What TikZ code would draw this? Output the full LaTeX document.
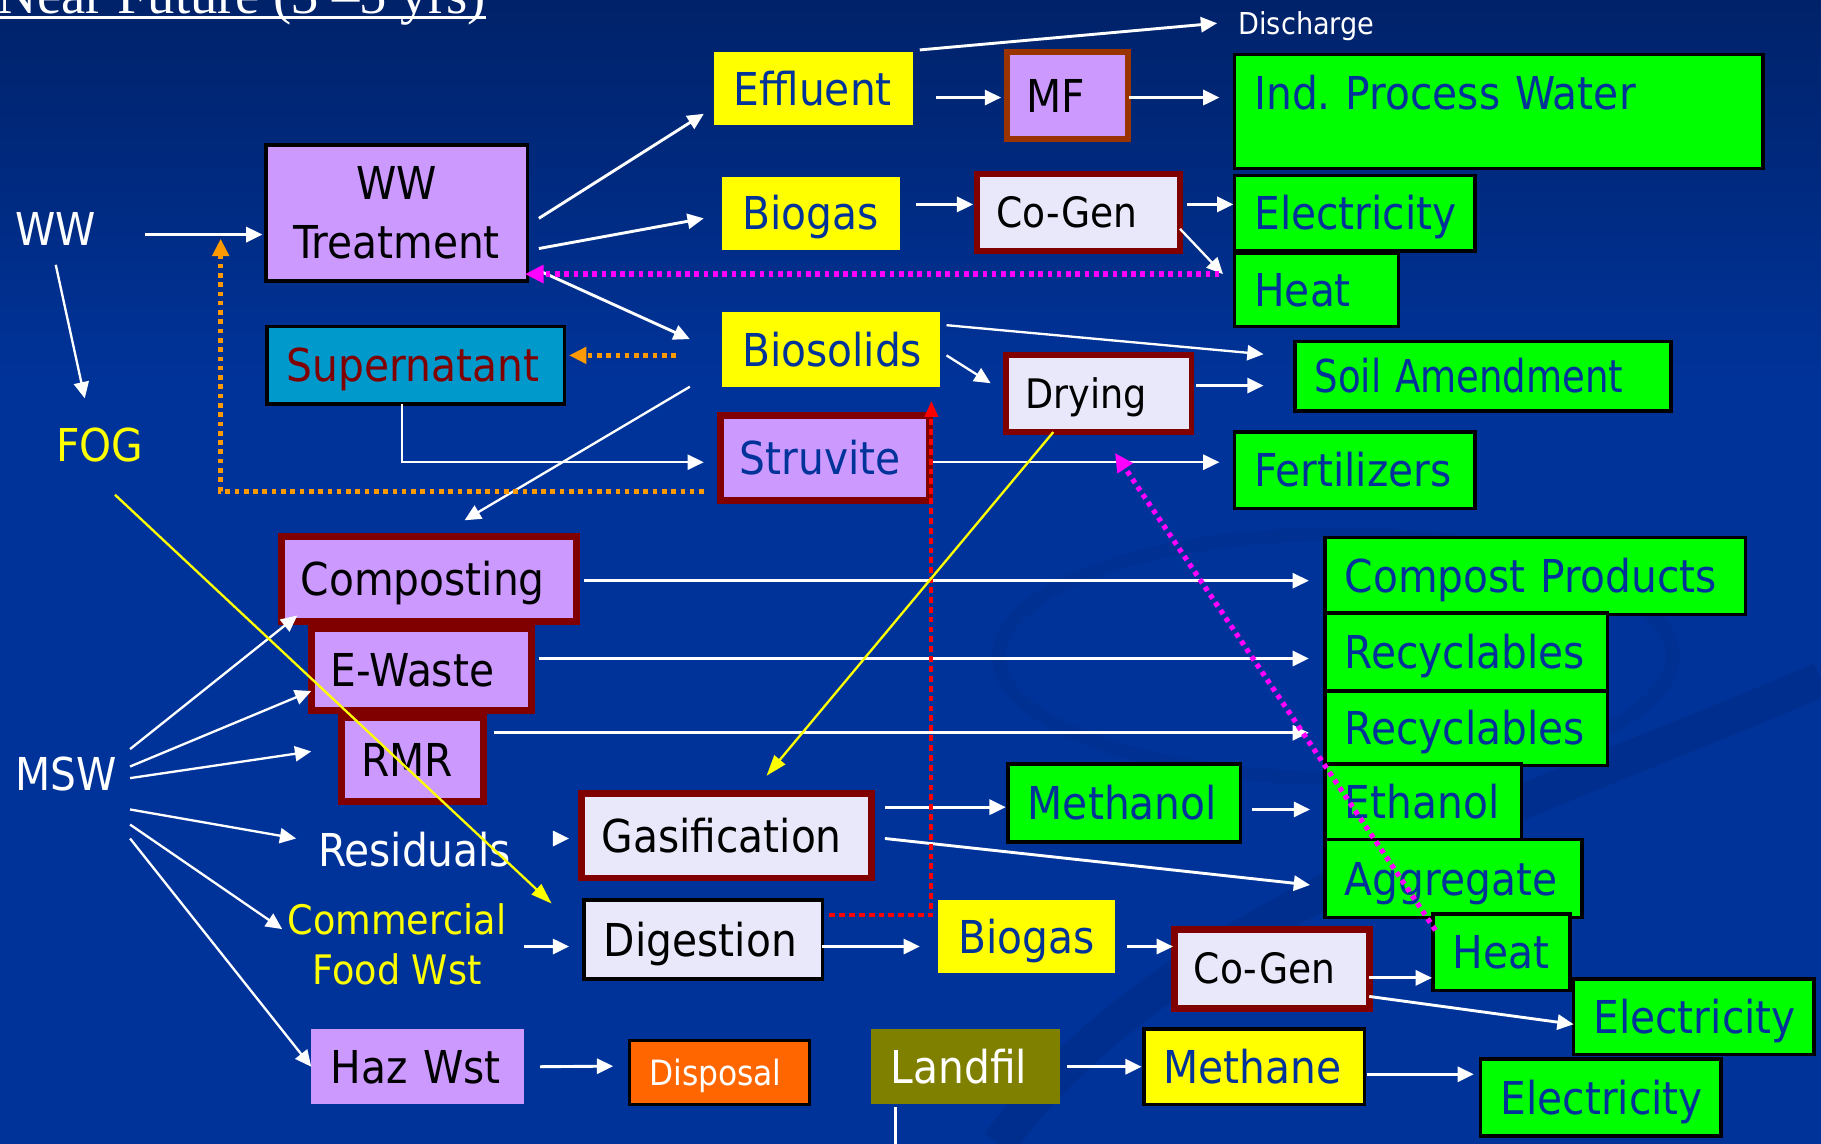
\documentclass[tikz,border=0pt]{standalone}
\usepackage{fontspec}
\setmainfont{DejaVu Sans Condensed}
\newfontfamily\titlefont{Liberation Serif}
\usetikzlibrary{arrows.meta}
\definecolor{bgblue}{RGB}{0,51,153}
\definecolor{bgtop}{RGB}{0,34,105}
\definecolor{swoosh}{RGB}{0,38,125}
\definecolor{lav}{RGB}{204,153,255}
\definecolor{lite}{RGB}{232,232,250}
\definecolor{maroonc}{RGB}{128,0,0}
\definecolor{brownb}{RGB}{153,51,0}
\definecolor{grn}{RGB}{0,255,0}
\definecolor{yel}{RGB}{255,255,0}
\definecolor{tealc}{RGB}{0,153,204}
\definecolor{orng}{RGB}{255,102,0}
\definecolor{olivec}{RGB}{128,128,0}
\definecolor{txtblue}{RGB}{0,51,153}
\definecolor{dotorange}{RGB}{255,153,0}
\definecolor{magc}{RGB}{255,0,255}
\definecolor{redc}{RGB}{255,0,0}
\newcommand\fbig{\fontsize{39}{48}\selectfont}
\newcommand\fww{\fontsize{39}{51}\selectfont}
\newcommand\fcogen{\fontsize{36}{44}\selectfont}
\newcommand\fdry{\fontsize{35}{42}\selectfont}
\newcommand\fdisp{\fontsize{30}{36}\selectfont}
\newcommand\fdisch{\fontsize{26}{30}\selectfont}
\newcommand\fcfw{\fontsize{35}{43}\selectfont}
\newcommand\ftitle{\titlefont\fontsize{47}{50}\selectfont}
\newcommand\bx[7]{%
  \pgfmathsetmacro\bxcx{(#3+#5)/2}%
  \pgfmathsetmacro\bxcy{(#4+#6)/2}%
  \pgfmathsetmacro\bxw{#5-#3}%
  \pgfmathsetmacro\bxh{#6-#4}%
  \pgfmathsetmacro\bxtw{#5-#3-34}%
  \node[bxs, minimum width=\bxw pt, minimum height=\bxh pt, text width=\bxtw pt, #1] (#2) at (\bxcx,\bxcy) {#7};}
\begin{document}
\begin{tikzpicture}[x=1pt,y=-1pt,
  bxs/.style={rectangle, inner xsep=17pt, inner ysep=0pt, outer sep=0pt, align=left,
    font=\fbig, text height=28.5pt, text depth=0pt},
  grnbox/.style={fill=grn, draw=black, line width=3pt, text=txtblue},
  yelbox/.style={fill=yel, text=txtblue},
  lavbox/.style={fill=lav, text=black},
  lavred/.style={fill=lav, draw=maroonc, line width=6pt, text=black},
  litered/.style={fill=lite, draw=maroonc, line width=6pt, text=black},
  liteblk/.style={fill=lite, draw=black, line width=3pt, text=black},
  txt/.style={inner sep=0pt, outer sep=0pt, font=\fbig},
  txth/.style={txt, text height=28.5pt, text depth=0pt},
  arr/.style={draw=white, line width=2.5pt, -{Triangle[length=14pt,width=13pt]}},
  plain/.style={draw=white, line width=2.5pt},
  mag/.style={draw=magc, line width=4.5pt, dash pattern=on 4pt off 4pt, -{Triangle[length=16pt,width=15pt]}},
  org/.style={draw=dotorange, line width=4pt, dash pattern=on 4pt off 4pt, -{Triangle[length=15pt,width=14pt]}},
  reddot/.style={draw=redc, line width=3.5pt, dash pattern=on 5pt off 3.5pt, -{Triangle[length=14pt,width=11pt]}},
  yelarr/.style={draw=yel, line width=2pt, -{Triangle[length=18pt,width=12pt]}}
]
% background
\useasboundingbox (0,0) rectangle (1568,985);
\fill[bgblue] (0,0) rectangle (1568,985);
\shade[top color=bgtop, bottom color=bgblue] (0,0) rectangle (1568,330);
\draw[swoosh, line width=30pt, opacity=0.35] (860,985) .. controls (1000,790) and (1300,700) .. (1568,585);
\draw[swoosh, line width=12pt, opacity=0.22] (1150,565) ellipse (290 and 105);
% title
\node[inner sep=0pt, outer sep=0pt, anchor=base west, text=white, font=\ftitle] (title) at (-2,11.5) {Near Future (3 –5 yrs)};
\draw[white, line width=2pt] ([yshift=-3.5pt]title.base west) -- ([yshift=-3.5pt]title.base east);
% plain text nodes
\node[txth, text=white] (ww) at (48,197) {WW};
\node[txth, text=yel] (fog) at (86,383) {FOG};
\node[txth, text=white] (msw) at (57,666) {MSW};
\node[txth, text=white] (resid) at (357,732) {Residuals};
\node[txt, text=yel, font=\fcfw, align=center] (cfw) at (342,813) {Commercial\\Food Wst};
\node[txt, text=white, font=\fdisch, text height=19pt, text depth=0pt] (disch) at (1125,20) {Discharge};
% boxes
\bx{lavbox, draw=black, line width=3pt, align=center, font=\fww, text height=, text depth=}{wwt}{229}{125}{454}{242}{WW\\Treatment}
\bx{fill=tealc, draw=black, line width=3pt, text=maroonc}{sup}{230}{281}{486}{348}{Supernatant}
\bx{yelbox}{eff}{615}{45}{786}{108}{Effluent}
\bx{lavbox, draw=brownb, line width=5pt}{mf}{867}{45}{971}{120}{MF}
\bx{grnbox, text depth=32pt}{ipw}{1063}{47}{1518}{145}{\mbox{Ind.\ Process Water}}
\bx{yelbox}{bga}{622}{152}{775}{215}{Biogas}
\bx{litered, line width=5pt, font=\fcogen, text height=26.2pt}{cga}{841}{150}{1016}{216}{Co-Gen}
\bx{grnbox}{ela}{1063}{151}{1270}{216}{Electricity}
\bx{grnbox}{hta}{1063}{218}{1204}{281}{Heat}
\bx{yelbox}{bio}{622}{269}{809}{333}{Biosolids}
\bx{litered, line width=5pt, font=\fdry, text height=25.5pt}{dry}{866}{306}{1026}{372}{Drying}
\bx{grnbox}{soil}{1115}{294}{1439}{354}{\scalebox{0.91}[1]{Soil Amendment}}
\bx{lavred, text=txtblue}{stru}{620}{358}{800}{431}{Struvite}
\bx{grnbox}{fert}{1063}{372}{1270}{438}{Fertilizers}
\bx{lavred}{comp}{242}{462}{496}{535}{Composting}
\bx{lavred}{ew}{268}{541}{458}{612}{E-Waste}
\bx{lavred}{rmr}{294}{618}{416}{690}{RMR}
\bx{grnbox}{cp}{1141}{463}{1503}{529}{\mbox{Compost Products}}
\bx{grnbox}{reca}{1141}{528}{1384}{595}{Recyclables}
\bx{grnbox}{recb}{1141}{595}{1384}{659}{Recyclables}
\bx{grnbox}{meth}{868}{658}{1068}{725}{Methanol}
\bx{grnbox}{eth}{1141}{658}{1310}{723}{Ethanol}
\bx{litered}{gas}{501}{683}{750}{756}{Gasification}
\bx{grnbox}{agg}{1141}{723}{1362}{790}{Aggregate}
\bx{liteblk}{dig}{503}{775}{708}{843}{Digestion}
\bx{yelbox}{bgb}{808}{775}{960}{838}{Biogas}
\bx{litered, font=\fcogen, text height=26.2pt}{cgb}{1011}{800}{1179}{868}{Co-Gen}
\bx{grnbox}{htb}{1234}{787}{1352}{853}{Heat}
\bx{grnbox}{elb}{1355}{843}{1562}{908}{Electricity}
\bx{lavbox}{haz}{268}{886}{451}{951}{\mbox{Haz Wst}}
\bx{fill=orng, draw=black, line width=3pt, text=white, font=\fdisp, text height=21.9pt}{disp}{542}{896}{697}{951}{Disposal}
\bx{fill=olivec, text=white}{land}{750}{886}{913}{951}{Landfil}
\bx{yelbox, draw=black, line width=3pt}{mthn}{985}{886}{1175}{951}{Methane}
\bx{grnbox}{elc}{1275}{912}{1482}{978}{Electricity}
% connectors
\draw[arr] ([shift={(77,5)}]ww.center) -- ([shift={(-3,18.5)}]wwt.west);
\draw[arr, line width=2pt] ([shift={(0,31)}]ww.center) -- ([shift={(-13,-40)}]fog.center);
\draw[arr] ([shift={(10,4.5)}]wwt.east) -- ([shift={(-9,21.5)}]eff.west);
\draw[arr] ([shift={(10,30.5)}]wwt.east) -- ([shift={(-16,4.5)}]bga.west);
\draw[arr] ([shift={(10,49.5)}]wwt.east) -- ([shift={(-28,-9)}]bio.west);
\draw[arr] ([shift={(6,-2)}]eff.north east) -- ([shift={(-77,0)}]disch.center);
\draw[arr] ([shift={(20,7.5)}]eff.east) -- ([shift={(-5,1.5)}]mf.west);
\draw[arr] ([shift={(1,1.5)}]mf.east) -- ([shift={(-13,-12)}]ipw.west);
\draw[arr] ([shift={(14,-7.5)}]bga.east) -- ([shift={(-3,-7)}]cga.west);
\draw[arr] ([shift={(6,-7)}]cga.east) -- ([shift={(-1,-7.5)}]ela.west);
\draw[arr, line width=2pt] ([shift={(0,14)}]cga.east) -- ([shift={(-10,-13.5)}]hta.west);
\draw[mag] ([shift={(-13,-13.5)}]hta.west) -- ([shift={(-2,52.5)}]wwt.east);
\draw[org] ([shift={(-40,5)}]bio.west) -- ([shift={(4,-8.5)}]sup.east);
\draw[arr, line width=2pt] ([shift={(-12,0)}]sup.south) |- ([shift={(-14,3.5)}]stru.west);
\draw[arr, line width=2pt] ([shift={(6,-21)}]bio.east) -- ([shift={(-27,-19)}]soil.west);
\draw[arr, line width=2pt] ([shift={(6,5)}]bio.east) -- ([shift={(-13,-9)}]dry.west);
\draw[arr] ([shift={(4,-7)}]dry.east) -- ([shift={(-27,8)}]soil.west);
\draw[arr, line width=2pt] ([shift={(-28,0)}]bio.south west) -- ([shift={(31,-14)}]comp.north);
\draw[arr, line width=2pt] ([shift={(3,3.5)}]stru.east) -- ([shift={(-13,-7)}]fert.west);
\draw[org] ([shift={(-14,28.5)}]stru.west) -| ([shift={(-39,22)}]wwt.west);
\draw[arr] ([shift={(7,1.5)}]comp.east) -- ([shift={(-14,4)}]cp.west);
\draw[arr] ([shift={(6,-9.5)}]ew.east) -- ([shift={(-14,5.5)}]reca.west);
\draw[arr] ([shift={(9,-23)}]rmr.east) -- ([shift={(-14,4)}]recb.west);
\draw[arr, line width=2pt] ([shift={(55,-21)}]msw.center) -- ([shift={(14,-5)}]comp.south west);
\draw[arr, line width=2pt] ([shift={(55,-6)}]msw.center) -- ([shift={(0,18.5)}]ew.west);
\draw[arr, line width=2pt] ([shift={(55,4)}]msw.center) -- ([shift={(-26,-7)}]rmr.west);
\draw[arr, line width=2pt] ([shift={(55,31)}]msw.center) -- ([shift={(-102,-10)}]resid.center);
\draw[arr, line width=2pt] ([shift={(55,44)}]msw.center) -- ([shift={(-99,-13)}]cfw.center);
\draw[arr, line width=2pt] ([shift={(55,56)}]msw.center) -- (haz.west);
\draw[arr] ([shift={(119,-10)}]resid.center) -- ([shift={(-11,2.5)}]gas.west);
\draw[arr] ([shift={(12,-24.5)}]gas.east) -- ([shift={(-2,3.5)}]meth.west);
\draw[arr] ([shift={(10,5.5)}]meth.east) -- ([shift={(-13,6.5)}]eth.west);
\draw[arr] ([shift={(12,2.5)}]gas.east) -- ([shift={(-13,5.5)}]agg.west);
\draw[arr] ([shift={(109,2)}]cfw.center) -- ([shift={(-13,6)}]dig.west);
\draw[arr] ([shift={(0,6)}]dig.east) -- ([shift={(-16,8.5)}]bgb.west);
\draw[arr] ([shift={(10,8.5)}]bgb.east) -- ([shift={(-1,-19)}]cgb.west);
\draw[arr] ([shift={(0,8)}]cgb.east) -- ([shift={(-1,22)}]htb.west);
\draw[arr] ([shift={(0,24)}]cgb.east) -- ([shift={(0,6.5)}]elb.west);
\draw[arr] ([shift={(14,0)}]haz.east) -- ([shift={(-14,-5.5)}]disp.west);
\draw[arr] ([shift={(6,0)}]land.east) -- ([shift={(-2,0)}]mthn.west);
\draw[arr] ([shift={(2,6.5)}]mthn.east) -- ([shift={(-6,-20)}]elc.west);
\coordinate (lfend) at ([shift={(-60.5,40)}]land.south);
\draw[plain] ([shift={(-60.5,2)}]land.south) -- (lfend);
\draw[reddot] ([shift={(6,-21)}]dig.east) -| ([shift={(2,-13)}]stru.north east);
\draw[yelarr] ([shift={(-39,0)}]dry.south) -- ([shift={(34.5,-15)}]gas.north);
\draw[yelarr] ([shift={(13,43)}]fog.center) -- ([shift={(-28,3)}]dig.north west);
\draw[mag] ([shift={(2,14)}]htb.north west) -- ([shift={(14,18)}]dry.south);
\end{tikzpicture}
\end{document}
